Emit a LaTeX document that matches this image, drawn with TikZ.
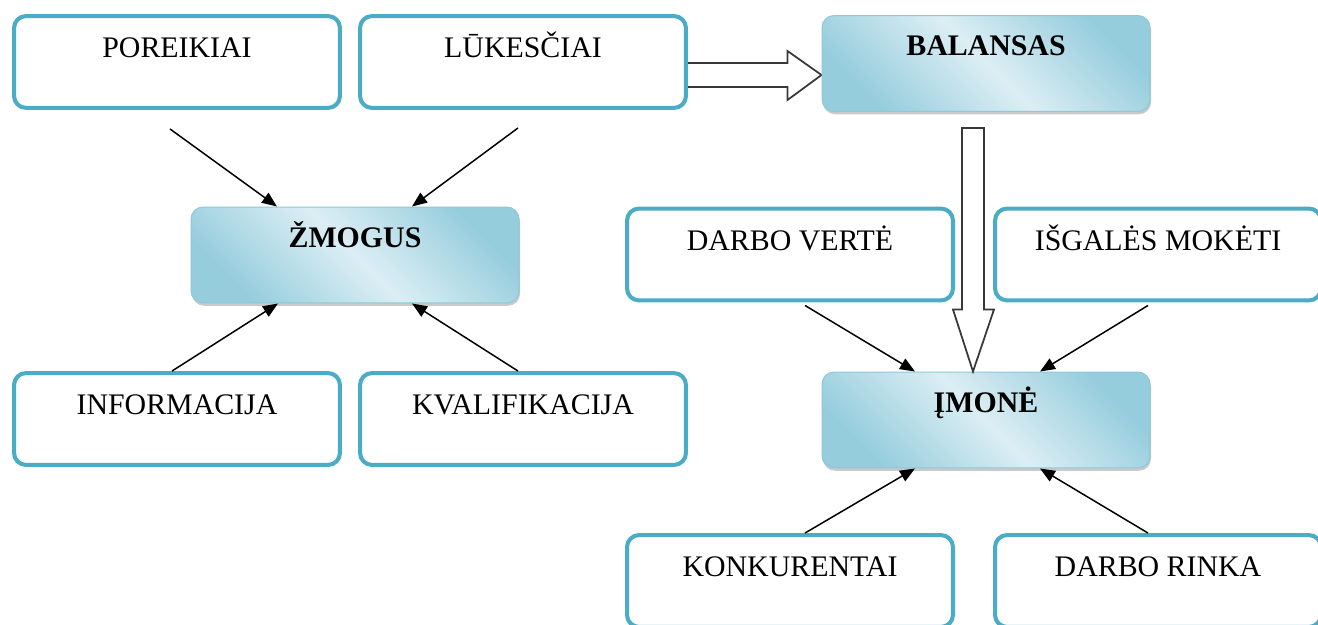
\documentclass[tikz,border=0pt]{standalone}
\usepackage{fontspec}
\setmainfont{Liberation Serif}
\usetikzlibrary{arrows.meta,calc,shadows,backgrounds}
\definecolor{bordblue}{HTML}{4BACC6}
\definecolor{shdark}{HTML}{96CDDD}
\definecolor{shlight}{HTML}{DCEEF4}
\definecolor{shedge}{HTML}{8DC9D9}
\begin{document}
\begin{tikzpicture}[x=0.02cm,y=-0.02cm,
  plainbox/.style={rounded corners=0.24cm, minimum width=6.52cm, inner sep=0pt,
    text height=23.8pt, text depth=28.5pt, draw=bordblue, line width=2.3pt, fill=white,
    font=\fontsize{17}{20}\selectfont},
  keybox/.style={rounded corners=0.24cm, minimum width=6.56cm, inner sep=0pt,
    text height=23pt, text depth=31.6pt, draw=shedge, line width=0.6pt,
    top color=shdark, bottom color=shdark, middle color=shlight, shading angle=-45,
    drop shadow={shadow xshift=0.6pt, shadow yshift=-1.6pt, opacity=0.35, fill=black!60},
    font=\fontsize{17}{20}\selectfont\bfseries},
  thinarrow/.style={-{Triangle[length=0.3cm,width=0.24cm]}, line width=0.85pt, black},
  hollow/.style={draw=black!78, line width=1pt, fill=white, line join=miter}]
\clip (0,0) rectangle (1318,625);

% top row
\node[plainbox] (por) at (177,62) {POREIKIAI};
\node[plainbox] (luk) at (523,62) {LŪKESČIAI};
\node[keybox] (bal) at (986,63.5) {BALANSAS};

% left group
\node[keybox] (zm) at (355,255) {ŽMOGUS};
\node[plainbox] (inf) at (177,419) {INFORMACIJA};
\node[plainbox] (kva) at (523,419) {KVALIFIKACIJA};

% right group
\node[plainbox] (dv) at (790,254.5) {DARBO VERTĖ};
\node[plainbox] (isg) at (1158,254.5) {IŠGALĖS MOKĖTI};
\node[keybox] (im) at (986,420) {ĮMONĖ};
\node[plainbox] (kon) at (790,581) {KONKURENTAI};
\node[plainbox] (dr) at (1158,581) {DARBO RINKA};

% hollow arrow LUKESCIAI -> BALANSAS (under the boxes)
\begin{pgfonlayer}{background}
\coordinate (ra1) at ($(luk.east)+(0,13)$);
\coordinate (ra2) at ($(bal.west)+(0,11.5)$);
\draw[hollow] ($(ra1)+(-3,-12)$) -- ($(ra2)+(-34,-12)$) -- ($(ra2)+(-34,-24)$) -- (ra2)
  -- ($(ra2)+(-34,25)$) -- ($(ra2)+(-34,12)$) -- ($(ra1)+(-3,12)$) -- cycle;
\end{pgfonlayer}

% hollow down arrow BALANSAS -> IMONE
\coordinate (da1) at ($(bal.south)+(-13,16)$);
\coordinate (da2) at ($(im.north)+(-13,0)$);
\draw[hollow] ($(da1)+(-11,0)$) -- ($(da2)+(-11,-62)$) -- ($(da2)+(-20,-62)$) -- (da2)
  -- ($(da2)+(21,-62)$) -- ($(da2)+(11,-62)$) -- ($(da1)+(11,0)$) -- cycle;

% thin arrows
\draw[thinarrow] ($(por.south)+(-7,19)$) -- ($(zm.north)+(-78,0)$);
\draw[thinarrow] ($(luk.south)+(-5,18)$) -- ($(zm.north)+(57,0)$);
\draw[thinarrow] ($(inf.north)+(-5,0)$) -- ($(zm.south)+(-77,0)$);
\draw[thinarrow] ($(kva.north)+(-5,0)$) -- ($(zm.south)+(57,0)$);
\draw[thinarrow] ($(dv.south)+(15,3)$) -- ($(im.north)+(-71,0)$);
\draw[thinarrow] ($(isg.south)+(-10,3)$) -- ($(im.north)+(54,0)$);
\draw[thinarrow] ($(kon.north)+(15,0)$) -- ($(im.south)+(-71,0)$);
\draw[thinarrow] ($(dr.north)+(-10,0)$) -- ($(im.south)+(54,0)$);
\end{tikzpicture}
\end{document}
